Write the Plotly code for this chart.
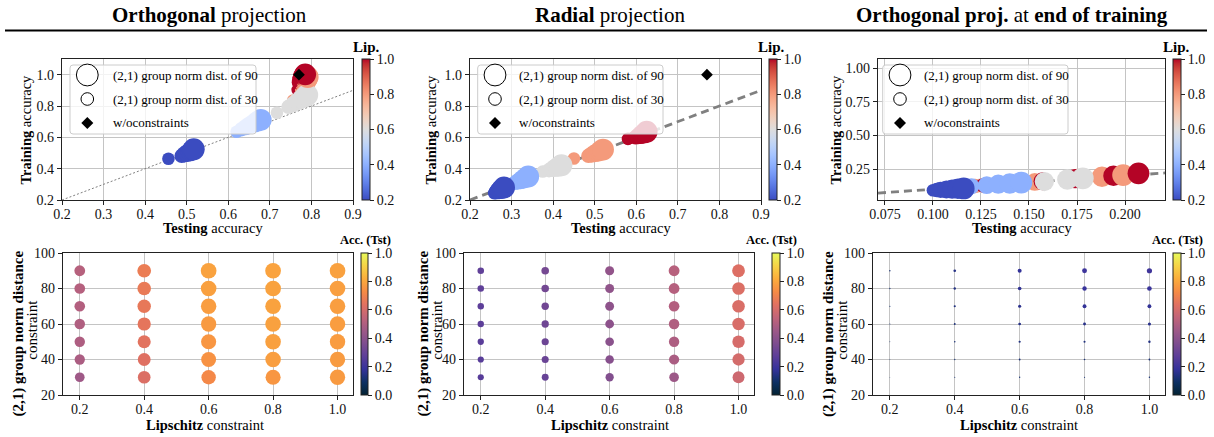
import math
import plotly.graph_objects as go

W, H = 1214, 437
FONT = "Liberation Serif"

# ---------------- data ----------------
lips = [0.2, 0.4, 0.6, 0.8, 1.0]          # Lipschitz constraint
dists = [30, 40, 50, 60, 70, 80, 90]      # (2,1) group norm distance constraint

# rows = Lipschitz constraint, columns = group-norm distance
ortho_test = [
    [0.456, 0.488, 0.495, 0.502, 0.508, 0.513, 0.517],
    [0.620, 0.632, 0.642, 0.652, 0.662, 0.670, 0.678],
    [0.717, 0.745, 0.757, 0.767, 0.776, 0.783, 0.790],
    [0.756, 0.778, 0.783, 0.786, 0.788, 0.790, 0.791],
    [0.767, 0.770, 0.773, 0.776, 0.779, 0.782, 0.785],
]
ortho_train = [
    [0.463, 0.482, 0.492, 0.500, 0.508, 0.516, 0.524],
    [0.636, 0.652, 0.665, 0.678, 0.690, 0.702, 0.712],
    [0.757, 0.795, 0.812, 0.830, 0.845, 0.858, 0.870],
    [0.835, 0.900, 0.920, 0.940, 0.955, 0.970, 0.985],
    [0.903, 0.950, 0.968, 0.980, 0.990, 0.996, 1.002],
]
radial_test = [
    [0.258, 0.262, 0.266, 0.270, 0.274, 0.278, 0.282],
    [0.300, 0.308, 0.315, 0.322, 0.328, 0.334, 0.340],
    [0.375, 0.390, 0.398, 0.405, 0.410, 0.415, 0.420],
    [0.450, 0.485, 0.493, 0.500, 0.508, 0.514, 0.520],
    [0.580, 0.598, 0.604, 0.610, 0.615, 0.620, 0.625],
]
radial_train = [
    [0.244, 0.250, 0.256, 0.262, 0.268, 0.274, 0.280],
    [0.300, 0.310, 0.318, 0.326, 0.334, 0.342, 0.350],
    [0.382, 0.390, 0.398, 0.405, 0.410, 0.416, 0.422],
    [0.465, 0.482, 0.490, 0.498, 0.506, 0.514, 0.522],
    [0.590, 0.600, 0.607, 0.614, 0.621, 0.628, 0.636],
]
end_test = [
    [0.100, 0.102, 0.104, 0.107, 0.110, 0.113, 0.116],
    [0.108, 0.114, 0.120, 0.128, 0.134, 0.140, 0.146],
    [0.115, 0.125, 0.135, 0.148, 0.158, 0.170, 0.178],
    [0.112, 0.122, 0.133, 0.153, 0.175, 0.188, 0.199],
    [0.118, 0.126, 0.140, 0.157, 0.174, 0.194, 0.207],
]
end_train = [
    [0.092, 0.094, 0.096, 0.098, 0.100, 0.103, 0.106],
    [0.110, 0.116, 0.122, 0.130, 0.137, 0.143, 0.149],
    [0.117, 0.127, 0.138, 0.150, 0.157, 0.172, 0.181],
    [0.114, 0.124, 0.136, 0.154, 0.180, 0.193, 0.205],
    [0.120, 0.128, 0.143, 0.159, 0.179, 0.200, 0.218],
]
# model trained without constraints
baseline_test = 0.77
baseline_train = 1.0

panel_titles = ["<b>Orthogonal</b> projection", "<b>Radial</b> projection",
                "<b>Orthogonal proj.</b> at <b>end of training</b>"]
legend_labels = ["(2,1) group norm dist. of 90", "(2,1) group norm dist. of 30", "w/oconstraints"]

# ---------------- styling helpers ----------------
def fx(p):
    return p / W

def fy(p):
    return 1 - p / H

coolwarm_rgb = [(59, 76, 192), (68, 90, 204), (77, 104, 215), (87, 117, 225), (98, 130, 234),
                (108, 142, 241), (119, 154, 247), (130, 165, 251), (141, 176, 254), (152, 185, 255),
                (163, 194, 255), (174, 201, 253), (184, 208, 249), (194, 213, 244), (204, 217, 238),
                (213, 219, 230), (221, 221, 221), (229, 216, 209), (236, 211, 197), (241, 204, 184),
                (245, 196, 172), (247, 187, 160), (247, 177, 148), (247, 166, 135), (244, 154, 123),
                (241, 141, 111), (236, 127, 99), (229, 112, 88), (222, 96, 77), (213, 80, 66),
                (203, 62, 56), (192, 40, 47), (180, 4, 38)]
COOLWARM = [[i / (len(coolwarm_rgb) - 1), "rgb(%d,%d,%d)" % c] for i, c in enumerate(coolwarm_rgb)]
thermal_rgb = [(3, 35, 51), (13, 48, 100), (53, 50, 155), (93, 62, 153), (126, 77, 143),
               (158, 89, 135), (193, 100, 121), (225, 113, 97), (246, 139, 69), (251, 173, 60),
               (246, 211, 70), (231, 250, 90)]
THERMAL = [[i / (len(thermal_rgb) - 1), "rgb(%d,%d,%d)" % c] for i, c in enumerate(thermal_rgb)]

top_x = [(62, 353), (470, 761), (878, 1165)]
bot_x = [(63, 353), (464, 754), (873, 1165)]
TOP_Y = (59, 200)
BOT_Y = (253, 395)
top_cb = [(362, 370), (769, 777), (1173, 1181)]
bot_cb = [(361, 368), (772, 780), (1173, 1181)]

top_xrange = [[0.2, 0.9], [0.2, 0.9], [0.0714, 0.2208]]
top_yrange = [[0.2, 1.1], [0.2, 1.1], [0.02, 1.067]]
top_xticks = [[0.2, 0.3, 0.4, 0.5, 0.6, 0.7, 0.8, 0.9]] * 2 + [[0.075, 0.1, 0.125, 0.15, 0.175, 0.2]]
top_yticks = [[0.2, 0.4, 0.6, 0.8, 1.0]] * 2 + [[0.25, 0.5, 0.75, 1.0]]
top_xfmt = [".1f", ".1f", ".3f"]
top_yfmt = [".1f", ".1f", ".2f"]

def dist_size(d):
    return 2.3 * math.sqrt(d)

bottom_size = [lambda a: 1.5 + 18 * a,
               lambda a: 1.5 + 18 * a,
               lambda a: max(0.4, 0.3 + 42 * (a - 0.09))]

tick_font = dict(family=FONT, size=14, color="#111")
axis_common = dict(showline=True, linecolor="#222", linewidth=1.2, mirror=True,
                   ticks="outside", ticklen=4, tickwidth=1, tickcolor="#222",
                   showgrid=True, gridcolor="#c4c4c4", gridwidth=1, zeroline=False,
                   tickfont=tick_font, automargin=False)
xaxis_common = dict(axis_common, ticklabelstandoff=-3)

def cbar(x0, x1, y0, y1, tickvals):
    return dict(x=fx(x0), xanchor="left", xpad=0, y=fy((y0 + y1) / 2), yanchor="middle", ypad=0,
                len=(y1 - y0) / H, lenmode="fraction", thickness=x1 - x0, thicknessmode="pixels",
                tickvals=tickvals, tickformat=".1f", ticks="outside", ticklen=4, tickwidth=1,
                tickcolor="#222", outlinewidth=1, outlinecolor="#222", tickfont=tick_font,
                title=dict(text=""))

fig = go.Figure()
layout = dict(width=W, height=H, autosize=False,
              margin=dict(l=0, r=0, t=0, b=0, pad=0, autoexpand=False),
              paper_bgcolor="white", plot_bgcolor="white", showlegend=False)
shapes, annotations = [], []

tests = [ortho_test, radial_test, end_test]
trains = [ortho_train, radial_train, end_train]

for p in range(3):
    # ---------- top scatter: test vs train ----------
    xa, ya = "x%d" % (p + 1), "y%d" % (p + 1)
    xs, ys, cs, ss = [], [], [], []
    for j, d in enumerate(dists):
        for i, l in enumerate(lips):
            xs.append(tests[p][i][j])
            ys.append(trains[p][i][j])
            cs.append(l)
            ss.append(dist_size(d))
    ca = "coloraxis" if p == 0 else "coloraxis%d" % (p + 1)
    xr = top_xrange[p]
    if p == 0:
        line = dict(color="#808080", width=1, dash="2px,2px")
    else:
        line = dict(color="#808080", width=2.8, dash="8px,5px")
    fig.add_trace(go.Scatter(x=xr, y=xr, mode="lines", line=line, xaxis=xa, yaxis=ya,
                             hoverinfo="skip"))
    fig.add_trace(go.Scatter(x=xs, y=ys, mode="markers", xaxis=xa, yaxis=ya,
                             marker=dict(color=cs, size=ss, coloraxis=ca, line=dict(width=0),
                                         opacity=1)))
    fig.add_trace(go.Scatter(x=[baseline_test], y=[baseline_train], mode="markers", xaxis=xa, yaxis=ya,
                             marker=dict(symbol="diamond", size=9, color="black", opacity=1)))
    x0, x1 = top_x[p]
    layout["xaxis%d" % (p + 1)] = dict(xaxis_common, domain=[fx(x0), fx(x1)], anchor=ya,
                                       range=xr, tickvals=top_xticks[p], tickformat=top_xfmt[p])
    layout["yaxis%d" % (p + 1)] = dict(axis_common, domain=[fy(TOP_Y[1]), fy(TOP_Y[0])], anchor=xa,
                                       range=top_yrange[p], tickvals=top_yticks[p], tickformat=top_yfmt[p])
    c0, c1 = top_cb[p]
    layout[ca] = dict(colorscale=COOLWARM, cmin=0.2, cmax=1.0,
                      colorbar=cbar(c0, c1, TOP_Y[0], TOP_Y[1], [0.2, 0.4, 0.6, 0.8, 1.0]))

    # ---------- bottom grid: colour = testing accuracy ----------
    q = p + 4
    xb, yb = "x%d" % q, "y%d" % q
    bx, by, bc, bs = [], [], [], []
    for i, l in enumerate(lips):
        for j, d in enumerate(dists):
            bx.append(l)
            by.append(d)
            bc.append(tests[p][i][j])
            bs.append(bottom_size[p](tests[p][i][j]))
    cb_name = "coloraxis%d" % q
    fig.add_trace(go.Scatter(x=bx, y=by, mode="markers", xaxis=xb, yaxis=yb,
                             marker=dict(color=bc, size=bs, coloraxis=cb_name, line=dict(width=0),
                                         opacity=1)))
    x0, x1 = bot_x[p]
    layout["xaxis%d" % q] = dict(xaxis_common, domain=[fx(x0), fx(x1)], anchor=yb,
                                 range=[0.148, 1.048], tickvals=lips, tickformat=".1f")
    layout["yaxis%d" % q] = dict(axis_common, domain=[fy(BOT_Y[1]), fy(BOT_Y[0])], anchor=xb,
                                 range=[20, 100], tickvals=[20, 40, 60, 80, 100])
    c0, c1 = bot_cb[p]
    layout[cb_name] = dict(colorscale=THERMAL, cmin=0.0, cmax=1.0,
                           colorbar=cbar(c0, c1, BOT_Y[0], BOT_Y[1], [0.0, 0.2, 0.4, 0.6, 0.8, 1.0]))

def ann(text, x, y, size=14.5, angle=0, xanchor="center", yanchor="middle"):
    return dict(text=text, x=fx(x), y=fy(y), xref="paper", yref="paper", showarrow=False,
                textangle=angle, xanchor=xanchor, yanchor=yanchor, borderpad=0,
                font=dict(family=FONT, size=size, color="black"))

# panel headers and rule
for t, cx in zip(panel_titles, [209, 610, 1011.7]):
    annotations.append(ann(t, cx, 15, size=21))
shapes.append(dict(type="line", xref="paper", yref="paper", x0=fx(5), x1=fx(1207),
                   y0=fy(30.5), y1=fy(30.5), line=dict(color="black", width=2)))

# axis titles
for cx in [25, 430, 835]:
    annotations.append(ann("<b>Training</b> accuracy", cx, 129.5, angle=-90))
for cx in [212.5, 621, 1022]:
    annotations.append(ann("<b>Testing</b> accuracy", cx, 228))
for bx_, cx in zip([17.5, 422.5, 828], [31.7, 436.7, 841.7]):
    annotations.append(ann("<b>(2,1) group norm distance</b>", bx_, 334, size=15, angle=-90))
    annotations.append(ann("constraint", cx, 330, size=15, angle=-90))
for cx in [205, 610.3, 1018.7]:
    annotations.append(ann("<b>Lipschitz</b> constraint", cx, 424.5))
for cx in [366.7, 771.3, 1176]:
    annotations.append(ann("<b>Lip.</b>", cx, 47, size=15))
for cx in [365, 771.5, 1177.3]:
    annotations.append(ann("<b>Acc. (Tst)</b>", cx, 240.5, size=12.5))

# legends (drawn above points with a translucent frame)
legend_boxes = [(70, 256, 17.3, 41.7), (477.7, 663, 17.3, 40.6), (882.7, 1068, 17.3, 40.6)]
LT, LB = 65, 134
row_y = [75, 99, 123]
for (lx0, lx1, gx, tx) in legend_boxes:
    r = 3
    path = ("M {a},{b} L {c},{b} Q {d},{b} {d},{e} L {d},{f} Q {d},{g} {c},{g} "
            "L {a},{g} Q {h},{g} {h},{f} L {h},{e} Q {h},{b} {a},{b} Z").format(
        a=fx(lx0 + r), b=fy(LT), c=fx(lx1 - r), d=fx(lx1), e=fy(LT + r), f=fy(LB - r),
        g=fy(LB), h=fx(lx0))
    shapes.append(dict(type="path", xref="paper", yref="paper", path=path, layer="above",
                       fillcolor="rgba(255,255,255,0.8)", line=dict(color="#cccccc", width=1)))
    cxp = lx0 + gx
    for dd, ry in zip([dists[-1], dists[0]], row_y[:2]):
        rr = dist_size(dd) / 2
        shapes.append(dict(type="circle", xref="paper", yref="paper", layer="above",
                           x0=fx(cxp - rr), x1=fx(cxp + rr), y0=fy(ry + rr), y1=fy(ry - rr),
                           fillcolor="white", line=dict(color="black", width=1)))
    s = 6
    shapes.append(dict(type="path", xref="paper", yref="paper", layer="above",
                       path="M {x0},{ym} L {xm},{y0} L {x1},{ym} L {xm},{y1} Z".format(
                           x0=fx(cxp - s), x1=fx(cxp + s), xm=fx(cxp), ym=fy(row_y[2]),
                           y0=fy(row_y[2] - s), y1=fy(row_y[2] + s)),
                       fillcolor="black", line=dict(color="black", width=0)))
    for lab, ry in zip(legend_labels, row_y):
        annotations.append(ann(lab, lx0 + tx, ry, size=13, xanchor="left"))

layout["shapes"] = shapes
layout["annotations"] = annotations
fig.update_layout(**layout)
fig.write_html("out.html", config={"displayModeBar": False, "staticPlot": True},
               post_script="document.body.style.margin='0px';document.body.style.overflow='hidden';")
